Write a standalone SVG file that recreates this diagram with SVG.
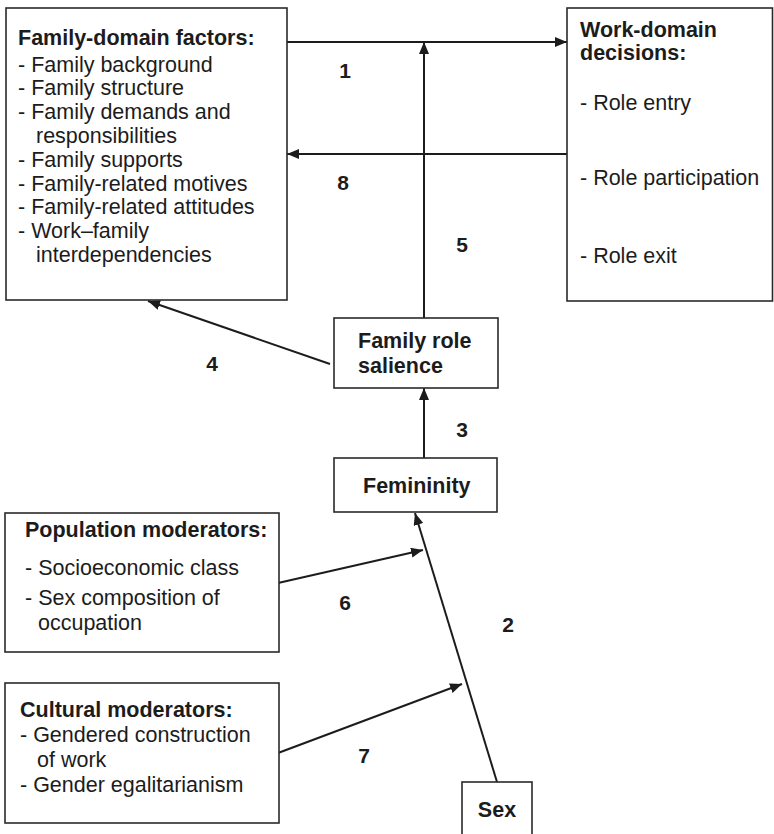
<svg xmlns="http://www.w3.org/2000/svg" width="774" height="834" viewBox="0 0 774 834">
  <style>
    .box { fill: #ffffff; stroke: #2a2a2a; stroke-width: 1.6; }
    .t { font-family: "Liberation Sans", Arial, sans-serif; font-size: 21.5px; fill: #1c1c1c; }
    .b { font-weight: bold; }
    .num { font-family: "Liberation Sans", Arial, sans-serif; font-size: 21px; font-weight: bold; fill: #1c1c1c; text-anchor: middle; }
    .edge { fill: none; stroke: #1c1c1c; stroke-width: 2; }
  </style>
  <defs>
    <marker id="arrow" viewBox="0 0 12 10" refX="12" refY="5" markerWidth="12" markerHeight="10" markerUnits="userSpaceOnUse" orient="auto">
      <path d="M0,0 L12,5 L0,10 z" fill="#1c1c1c"/>
    </marker>
  </defs>

  <rect width="774" height="834" fill="#ffffff"/>

  <!-- connectors -->
  <g id="connectors">
    <line class="edge" x1="287" y1="42" x2="567" y2="42" marker-end="url(#arrow)"/>
    <line class="edge" x1="567" y1="154" x2="287" y2="154" marker-end="url(#arrow)"/>
    <line class="edge" x1="424" y1="318" x2="424" y2="42" marker-end="url(#arrow)"/>
    <line class="edge" x1="330" y1="364" x2="148" y2="301" marker-end="url(#arrow)"/>
    <line class="edge" x1="424" y1="458" x2="424" y2="388" marker-end="url(#arrow)"/>
    <line class="edge" x1="497" y1="782" x2="415" y2="513" marker-end="url(#arrow)"/>
    <line class="edge" x1="278" y1="583" x2="423" y2="550" marker-end="url(#arrow)"/>
    <line class="edge" x1="278" y1="753" x2="462" y2="684" marker-end="url(#arrow)"/>

    <text class="num" x="345" y="78">1</text>
    <text class="num" x="343" y="190">8</text>
    <text class="num" x="462" y="252">5</text>
    <text class="num" x="212" y="371">4</text>
    <text class="num" x="462" y="437">3</text>
    <text class="num" x="345" y="610">6</text>
    <text class="num" x="508" y="632">2</text>
    <text class="num" x="364" y="763">7</text>
  </g>

  <g id="family-domain">
    <rect class="box" x="6" y="8" width="281" height="292"/>
    <text class="t b" x="18" y="45">Family-domain factors:</text>
    <text class="t" x="18" y="71.5">- Family background</text>
    <text class="t" x="18" y="95.3">- Family structure</text>
    <text class="t" x="18" y="119.1">- Family demands and</text>
    <text class="t" x="36" y="142.9">responsibilities</text>
    <text class="t" x="18" y="166.7">- Family supports</text>
    <text class="t" x="18" y="190.5">- Family-related motives</text>
    <text class="t" x="18" y="214.3">- Family-related attitudes</text>
    <text class="t" x="18" y="238.1">- Work–family</text>
    <text class="t" x="36" y="261.9">interdependencies</text>
  </g>

  <g id="work-domain">
    <rect class="box" x="567" y="8" width="205.5" height="293"/>
    <text class="t b" x="580" y="36.5">Work-domain</text>
    <text class="t b" x="580" y="60">decisions:</text>
    <text class="t" x="580" y="110">- Role entry</text>
    <text class="t" x="580" y="185">- Role participation</text>
    <text class="t" x="580" y="263">- Role exit</text>
  </g>

  <g id="family-role-salience">
    <rect class="box" x="334" y="318" width="164" height="70"/>
    <text class="t b" x="358" y="348">Family role</text>
    <text class="t b" x="358" y="373">salience</text>
  </g>

  <g id="femininity">
    <rect class="box" x="334" y="458" width="163" height="54"/>
    <text class="t b" x="363" y="493">Femininity</text>
  </g>

  <g id="population-moderators">
    <rect class="box" x="5" y="513" width="274" height="139"/>
    <text class="t b" x="25" y="537">Population moderators:</text>
    <text class="t" x="25" y="575">- Socioeconomic class</text>
    <text class="t" x="25" y="605">- Sex composition of</text>
    <text class="t" x="38" y="630">occupation</text>
  </g>

  <g id="cultural-moderators">
    <rect class="box" x="5" y="683" width="274" height="140"/>
    <text class="t b" x="20" y="716.5">Cultural moderators:</text>
    <text class="t" x="20" y="741.5">- Gendered construction</text>
    <text class="t" x="37" y="766.5">of work</text>
    <text class="t" x="20" y="791.5">- Gender egalitarianism</text>
  </g>

  <g id="sex">
    <rect class="box" x="462" y="782" width="70" height="60"/>
    <text class="t b" x="497" y="816.5" text-anchor="middle">Sex</text>
  </g>
</svg>
